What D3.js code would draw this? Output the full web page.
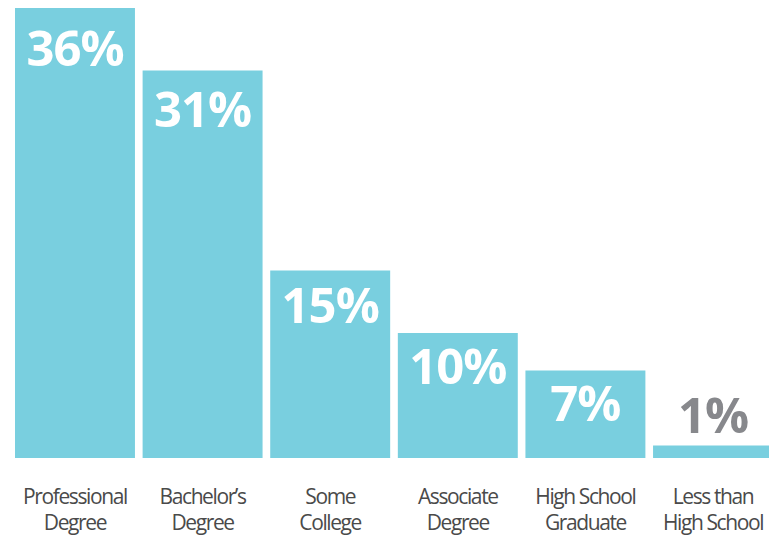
<!DOCTYPE html>
<html>
<head>
<meta charset="utf-8">
<script src="https://cdn.jsdelivr.net/npm/d3@7"></script>
<style>
  body { margin: 0; background: #fff; }
  svg { display: block; }
  .chart__cat { font-family: "Open Sans", sans-serif; font-size: 21px; fill: #4a4a4a; letter-spacing: -1.4px; }
  .chart__value { font-family: "Open Sans", sans-serif; font-weight: 700; font-size: 49px; letter-spacing: -1px; }
</style>
</head>
<body>
<svg data-chart></svg>
<script>
const categories = ['Professional|Degree', 'Bachelor’s|Degree', 'Some|College', 'Associate|Degree', 'High School|Graduate', 'Less than|High School'];
const shares = [36, 31, 15, 10, 7, 1];

const width = 769;
const height = 535;
const baseY = 458;

const chart = d3.select('[data-chart]')
  .attr('width', width)
  .attr('height', height);

const x = d3.scaleBand()
  .domain(categories)
  .range([15, 773])
  .paddingInner(0.06)
  .paddingOuter(0);

const y = d3.scaleLinear()
  .domain([0, 36])
  .range([baseY, 8]);

const group = chart.selectAll('g.bar')
    .data(categories.map((c, i) => ({cat: c, value: shares[i]})))
  .enter().append('g')
    .attr('class', 'bar');

group.append('rect')
  .attr('x', d => x(d.cat))
  .attr('y', d => y(d.value))
  .attr('width', x.bandwidth())
  .attr('height', d => baseY - y(d.value))
  .attr('fill', '#79cfdf');

// small bars get their label above the bar, in grey
const inside = d => baseY - y(d.value) > 60;
group.append('text')
  .attr('class', 'chart__value')
  .attr('x', d => x(d.cat) + x.bandwidth() / 2)
  .attr('y', d => inside(d) ? y(d.value) + 48.5 + (baseY - y(d.value)) * 0.021 : y(d.value) - 13)
  .attr('text-anchor', 'middle')
  .attr('fill', d => inside(d) ? '#fff' : '#87888c')
  .text(d => d.value + '%');

const label = group.append('text')
  .attr('class', 'chart__cat')
  .attr('text-anchor', 'middle')
  .attr('x', d => x(d.cat) + x.bandwidth() / 2);

label.selectAll('tspan')
    .data(d => d.cat.split('|'))
  .enter().append('tspan')
    .attr('x', function() { return this.parentNode.getAttribute('x'); })
    .attr('y', (d, i) => 503.5 + i * 26)
    .text(d => d);
</script>
</body>
</html>
